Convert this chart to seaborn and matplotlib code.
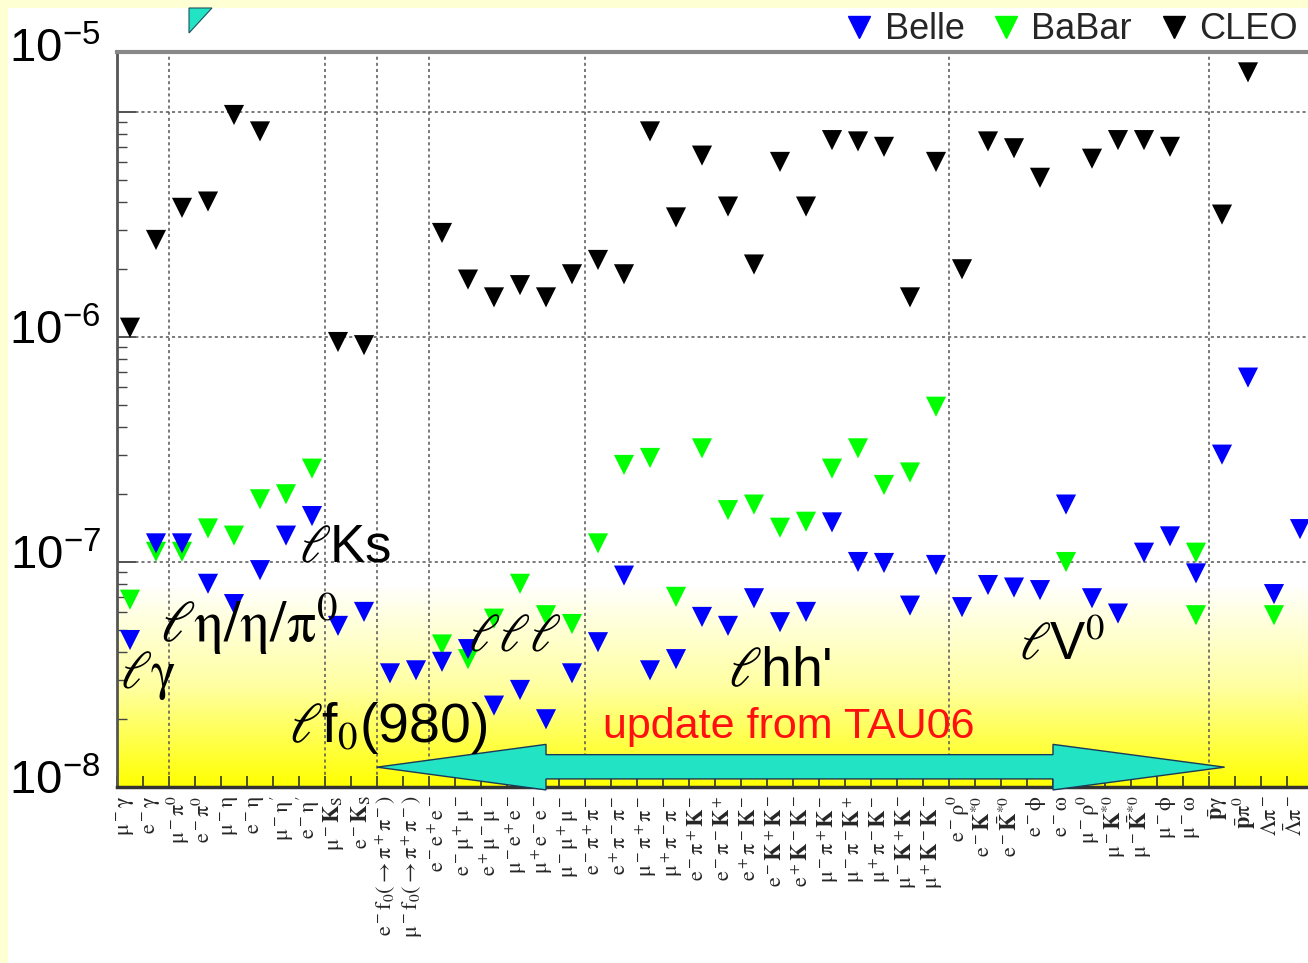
import numpy as np
import pandas as pd
import matplotlib
matplotlib.use("Agg")
import matplotlib.pyplot as plt
import seaborn as sns
from matplotlib.colors import LinearSegmentedColormap
from matplotlib.lines import Line2D
from matplotlib.patches import Polygon, Rectangle
import matplotlib.transforms as mtransforms

# ---------------- data ----------------
categories = [
    r"$\mu^-\gamma$", r"$e^-\gamma$",
    r"$\mu^-\pi^0$", r"$e^-\pi^0$", r"$\mu^-\eta$", r"$e^-\eta$", r"$\mu^-\eta'$", r"$e^-\eta'$",
    r"$\mu^-\mathbf{K}_S$", r"$e^-\mathbf{K}_S$",
    r"$e^-f_0(\rightarrow\pi^+\pi^-)$", r"$\mu^-f_0(\rightarrow\pi^+\pi^-)$",
    r"$e^-e^+e^-$", r"$e^-\mu^+\mu^-$", r"$e^+\mu^-\mu^-$", r"$\mu^-e^+e^-$", r"$\mu^+e^-e^-$", r"$\mu^-\mu^+\mu^-$",
    r"$e^-\pi^+\pi^-$", r"$e^+\pi^-\pi^-$", r"$\mu^-\pi^+\pi^-$", r"$\mu^+\pi^-\pi^-$",
    r"$e^-\pi^+\mathbf{K}^-$", r"$e^-\pi^-\mathbf{K}^+$", r"$e^+\pi^-\mathbf{K}^-$",
    r"$e^-\mathbf{K}^+\mathbf{K}^-$", r"$e^+\mathbf{K}^-\mathbf{K}^-$",
    r"$\mu^-\pi^+\mathbf{K}^-$", r"$\mu^-\pi^-\mathbf{K}^+$", r"$\mu^+\pi^-\mathbf{K}^-$",
    r"$\mu^-\mathbf{K}^+\mathbf{K}^-$", r"$\mu^+\mathbf{K}^-\mathbf{K}^-$",
    r"$e^-\rho^0$", r"$e^-\mathbf{K}^{*0}$", r"$e^-\bar{\mathbf{K}}^{*0}$", r"$e^-\phi$", r"$e^-\omega$",
    r"$\mu^-\rho^0$", r"$\mu^-\mathbf{K}^{*0}$", r"$\mu^-\bar{\mathbf{K}}^{*0}$", r"$\mu^-\phi$", r"$\mu^-\omega$",
    r"$\bar{\mathbf{p}}\gamma$", r"$\bar{\mathbf{p}}\pi^0$", r"$\Lambda\pi^-$", r"$\bar{\Lambda}\pi^-$",
]
nan = np.nan
belle = [4.5e-8, 1.21e-7, 1.21e-7, 8.0e-8, 6.5e-8, 9.2e-8, 1.31e-7, 1.6e-7,
         5.2e-8, 6.0e-8, 3.2e-8, 3.3e-8,
         3.6e-8, 4.1e-8, 2.3e-8, 2.7e-8, 2.0e-8, 3.2e-8,
         4.4e-8, 8.7e-8, 3.3e-8, 3.7e-8, 5.7e-8, 5.2e-8, 6.9e-8, 5.4e-8, 6.0e-8,
         1.5e-7, 1.0e-7, 9.9e-8, 6.4e-8, 9.7e-8,
         6.3e-8, 7.9e-8, 7.7e-8, 7.5e-8, 1.8e-7, 6.9e-8, 5.9e-8, 1.1e-7, 1.3e-7, 8.9e-8,
         3.0e-7, 6.6e-7, 7.2e-8, 1.4e-7]
babar = [6.8e-8, 1.11e-7, 1.11e-7, 1.41e-7, 1.31e-7, 1.9e-7, 2.0e-7, 2.6e-7,
         nan, nan, nan, nan,
         4.3e-8, 3.7e-8, 5.6e-8, 8.0e-8, 5.8e-8, 5.3e-8,
         1.21e-7, 2.7e-7, 2.9e-7, 7.0e-8, 3.2e-7, 1.7e-7, 1.8e-7, 1.42e-7, 1.51e-7,
         2.6e-7, 3.2e-7, 2.2e-7, 2.5e-7, 4.9e-7,
         nan, nan, nan, nan, 1.0e-7, nan, nan, nan, nan, 1.1e-7,
         nan, nan, 5.8e-8, nan]
cleo = [1.1e-6, 2.7e-6, 3.75e-6, 4.0e-6, 9.7e-6, 8.2e-6, nan, nan,
        9.5e-7, 9.2e-7, nan, nan,
        2.9e-6, 1.8e-6, 1.5e-6, 1.7e-6, 1.5e-6, 1.9e-6,
        2.2e-6, 1.9e-6, 8.2e-6, 3.4e-6, 6.4e-6, 3.8e-6, 2.1e-6, 6.0e-6, 3.8e-6,
        7.5e-6, 7.4e-6, 7.0e-6, 1.5e-6, 6.0e-6,
        2.0e-6, 7.4e-6, 6.9e-6, 5.1e-6, nan, 6.2e-6, 7.5e-6, 7.5e-6, 7.0e-6, nan,
        3.5e-6, 1.5e-5, nan, nan]
babar_extra_decay = [r"$\mu^-\omega$"]
babar_extra_value = [5.8e-8]

experiments = ["Belle", "BaBar", "CLEO"]
group_sizes = [2, 6, 2, 2, 6, 14, 10, 4]
ytick_exponents = [-8, -7, -6, -5]
update_text = "update from TAU06"

# ---------------- style ----------------
sns.set_theme(style="white")
plt.rcParams["font.family"] = ["Liberation Sans", "DejaVu Sans"]
plt.rcParams["mathtext.fontset"] = "stix"
plt.rcParams["mathtext.default"] = "rm"

palette = {"Belle": "#0000FF", "BaBar": "#00FF00", "CLEO": "#000000"}
teal = "#22E3C3"

rows = []
for exp, vals in [("BaBar", babar), ("Belle", belle), ("CLEO", cleo)]:
    for i, (c, v) in enumerate(zip(categories, vals)):
        if not np.isnan(v):
            rows.append(dict(decay=c, pos=i, limit=v, experiment=exp))
for c, v in zip(babar_extra_decay, babar_extra_value):
    rows.append(dict(decay=c, pos=categories.index(c), limit=v, experiment="BaBar"))
df = pd.DataFrame(rows)

W, H = 1308, 963
fig = plt.figure(figsize=(W / 100, H / 100), dpi=100)
fig.patch.set_facecolor("#FFFFD4")
fig.patches.append(Rectangle((8 / W, 0), 1, (H - 8) / H, transform=fig.transFigure,
                             facecolor="white", edgecolor="none", zorder=-10))
# cut-off teal piece at the very top (slide decoration)
fig.patches.append(Polygon([(189 / W, 1 - 8 / H), (212 / W, 1 - 8 / H), (189 / W, 1 - 33 / H)],
                           closed=True, transform=fig.transFigure, facecolor=teal,
                           edgecolor="#205060", lw=0.8, zorder=5))

n = len(categories)
ax = fig.add_axes([117 / W, 176 / H, (n * 26) / W, 735 / H])
ax.set_facecolor("white")

ylog_min = -8.0
ylog_max = -8.0 + 735 / 225.0

# yellow gradient band at the bottom
cmap = LinearSegmentedColormap.from_list("yel", ["#FFFFFA", "#FFFFA0", "#FFFF00"])
grad = np.linspace(1, 0, 256).reshape(-1, 1)
ax.imshow(grad, extent=[0, 1, 0, 0.27], transform=ax.transAxes, aspect="auto",
          cmap=cmap, origin="lower", zorder=0, interpolation="bilinear")

sns.scatterplot(data=df, x="pos", y="limit", hue="experiment", palette=palette,
                marker="v", s=210, linewidth=0, legend=False, ax=ax, zorder=3)

ax.set_yscale("log")
ax.set_xlim(-0.5, n - 0.5)
ax.set_ylim(10 ** ylog_min, 10 ** ylog_max)
ax.set_xlabel("")
ax.set_ylabel("")

# grid lines
grid_kw = dict(color="#555555", lw=1.1, ls=(0, (2, 2)), zorder=1)
for e in ytick_exponents[1:]:
    ax.axhline(10.0 ** e, **grid_kw)
bounds = np.cumsum(group_sizes)[:-1] - 0.5
for b in bounds:
    ax.axvline(b, **grid_kw)

# x ticks
ax.set_xticks(np.arange(n))
ax.set_xticklabels(categories, rotation=90, fontsize=16, ha="center", va="top")
ax.set_xticks(np.arange(-0.5, n), minor=True)
ax.tick_params(axis="x", which="major", length=0, pad=6, bottom=True)
ax.tick_params(axis="x", which="minor", direction="in", length=8, width=1.2,
               color="#333333", bottom=True)
shift = mtransforms.ScaledTranslation(-4 / 100, 0, fig.dpi_scale_trans)
for lbl in ax.get_xticklabels():
    lbl.set_transform(lbl.get_transform() + shift)

# y ticks
ax.tick_params(axis="y", which="major", direction="in", length=14, width=1.3,
               color="#444444", left=True, labelleft=False)
ax.tick_params(axis="y", which="minor", direction="in", length=7, width=1.0,
               color="#444444", left=True, labelleft=False)

for e in ytick_exponents:
    frac = (e - ylog_min) / (ylog_max - ylog_min) - 7 / 735
    if e == ytick_exponents[-1]:
        frac = 1 - 10 / 735  # top label sits at the frame top, as on the slide
    ax.text(-16 / (n * 26), frac, "10$^{\\mathregular{%d}}$" % e, transform=ax.transAxes,
            ha="right", va="baseline", fontsize=34, color="black", clip_on=False)

for side, col, lw in [("left", "#555555", 2.0), ("top", "#888888", 3.0),
                      ("bottom", "#333333", 2.5), ("right", "#555555", 2.0)]:
    ax.spines[side].set_visible(True)
    ax.spines[side].set_color(col)
    ax.spines[side].set_linewidth(lw)

# legend
handles = [Line2D([], [], marker="v", ls="", color=palette[e], markersize=16) for e in experiments]
ax.legend(handles, experiments, loc="center right", bbox_to_anchor=(0.987, 1.03),
          ncol=3, frameon=False, fontsize=26, handletextpad=0.2, columnspacing=0.65,
          borderaxespad=0, borderpad=0, handlelength=1.0)

# group annotations (slide overlays)
blend = mtransforms.blended_transform_factory(ax.transData, ax.transAxes)
overlays = [
    (-0.4, 0.152, r"$\ell\gamma$", 38),
    (1.15, 0.222, r"$\ell\eta/\eta/\pi^0$", 42),
    (6.5, 0.325, r"$\ell$Ks", 38),
    (6.1, 0.080, r"$\ell$f$_0$(980)", 40),
    (13.0, 0.203, r"$\ell\ell\ell$", 38),
    (23.0, 0.156, r"$\ell$hh'", 40),
    (34.2, 0.193, r"$\ell$V$^0$", 38),
]
for x, y, s, fs in overlays:
    ax.text(x, y, s, transform=blend, fontsize=fs, ha="left", va="center",
            color="black", zorder=6)

# teal double arrow with the update note
arrow = [(9.5, 0.027), (16.0, 0.058), (16.0, 0.044), (35.5, 0.044), (35.5, 0.058),
         (42.1, 0.027), (35.5, -0.004), (35.5, 0.011), (16.0, 0.011), (16.0, -0.004)]
ax.add_patch(Polygon(arrow, closed=True, transform=blend, facecolor=teal,
                     edgecolor="#1a3a5a", lw=1.0, zorder=5, clip_on=False))
ax.text(18.2, 0.082, update_text, transform=blend, fontsize=31, color="#FF1010",
        ha="left", va="center", zorder=6)

fig.savefig("out.png", dpi=100, facecolor=fig.get_facecolor())
